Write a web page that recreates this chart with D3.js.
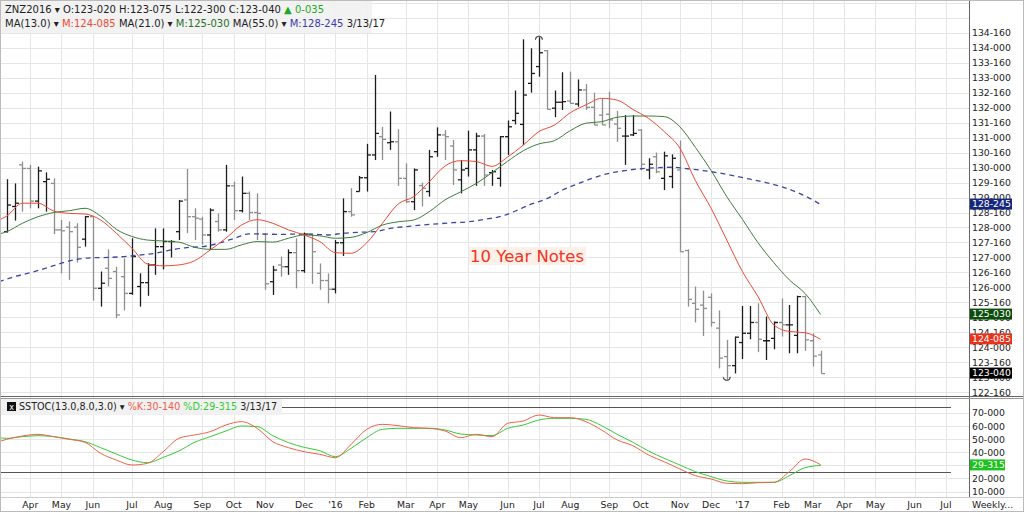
<!DOCTYPE html>
<html>
<head>
<meta charset="utf-8">
<script src="https://cdn.jsdelivr.net/npm/d3@7"></script>
<style>
body { margin: 0; background: #fff; }
svg { display: block; font-family: "DejaVu Sans", Verdana, sans-serif; }
text { white-space: pre; }
</style>
</head>
<body>
<svg id="chart" width="1024" height="512"></svg>
<script>
// weekly ZN bars, first bar is the week of 3/16/15, last one 3/13/17
const firstWeek = new Date(2015, 2, 16)

const opens = [127.86, 128.70, 130.09, 129.97, 128.88, 129.53, 129.47, 127.92, 128.01, 128.01,
  127.61, 128.36, 125.97, 126.64, 126.53, 126.36, 125.80, 126.03, 126.16, 126.75,
  127.36, 127.53, 127.86, 128.92, 128.36, 128.28, 127.75, 128.20, 127.92, 129.39,
  128.56, 129.14, 128.50, 127.78, 126.19, 126.75, 126.69, 127.16, 126.56, 127.78,
  126.47, 126.23, 125.94, 127.49, 128.53, 129.20, 129.66, 130.42, 131.03, 130.83,
  130.86, 129.64, 128.86, 129.40, 129.20, 130.53, 131.09, 130.72, 129.59, 129.97,
  130.59, 131.05, 129.83, 129.64, 131.03, 131.57, 131.44, 132.81, 133.37, 133.90,
  131.98, 132.18, 132.22, 132.12, 132.59, 132.01, 131.75, 131.78, 131.45, 131.05,
  131.09, 131.25, 129.92, 130.36, 129.64, 129.70, 129.92, 127.23, 125.47, 125.41,
  125.67, 124.64, 123.69, 123.39, 124.16, 124.47, 124.83, 124.22, 124.30, 124.83,
  124.75, 124.40, 125.69, 124.22, 123.75]
const highs = [129.61, 129.47, 130.20, 130.09, 130.03, 129.84, 129.64, 128.25, 128.20, 128.14,
  128.38, 128.36, 126.53, 127.27, 126.69, 126.97, 127.64, 126.47, 126.81, 127.97,
  127.97, 127.58, 128.92, 129.95, 128.64, 128.36, 128.64, 128.47, 130.09, 129.53,
  129.70, 129.20, 129.14, 127.81, 126.72, 127.03, 127.27, 127.64, 127.83, 127.78,
  126.80, 126.47, 127.58, 128.97, 129.31, 129.72, 130.79, 133.09, 131.36, 131.87,
  131.28, 130.14, 129.97, 129.50, 130.59, 131.34, 131.25, 130.92, 130.25, 131.23,
  131.16, 131.12, 129.92, 131.05, 131.57, 132.57, 134.28, 133.98, 134.35, 133.92,
  132.57, 133.18, 133.20, 132.94, 132.79, 132.50, 132.31, 132.53, 131.89, 131.75,
  131.75, 131.28, 130.31, 130.50, 130.53, 130.44, 130.90, 127.27, 126.03, 125.89,
  125.80, 125.23, 124.25, 124.36, 125.38, 125.38, 125.47, 125.03, 124.86, 125.63,
  125.41, 125.72, 125.72, 124.47, 123.89]
const lows = [127.83, 128.23, 128.53, 128.64, 128.64, 128.53, 127.78, 126.47, 126.25, 126.83,
  127.36, 125.56, 125.36, 126.03, 124.97, 125.23, 125.75, 125.36, 125.72, 126.42,
  126.60, 127.00, 127.58, 127.81, 127.58, 127.42, 127.25, 127.86, 127.86, 128.25,
  128.50, 128.25, 127.58, 125.92, 125.75, 126.36, 126.42, 125.97, 126.49, 126.12,
  125.92, 125.47, 125.80, 127.05, 128.36, 129.20, 129.20, 130.25, 130.25, 130.59,
  129.39, 128.81, 128.58, 128.70, 129.03, 130.36, 130.25, 129.42, 129.14, 129.70,
  129.39, 129.39, 129.39, 129.36, 130.42, 131.44, 130.75, 132.50, 133.03, 131.94,
  131.68, 131.92, 132.12, 132.03, 131.92, 131.42, 131.42, 131.31, 130.86, 130.09,
  131.05, 129.92, 129.61, 129.81, 129.25, 129.31, 127.19, 125.36, 124.83, 124.38,
  124.69, 123.30, 122.93, 123.13, 123.61, 124.27, 123.84, 123.58, 123.94, 124.36,
  123.80, 123.80, 123.89, 123.36, 123.13]
const closes = [128.75, 128.81, 129.97, 128.88, 129.89, 129.61, 127.92, 127.89, 127.86, 127.34,
  128.36, 125.97, 126.14, 126.30, 125.08, 125.80, 127.03, 126.16, 126.75, 127.36,
  127.53, 127.53, 128.88, 128.36, 128.31, 127.75, 128.58, 127.92, 129.39, 128.56,
  129.14, 128.50, 128.47, 126.12, 126.58, 126.69, 127.16, 126.56, 127.78, 127.19,
  126.23, 125.94, 127.49, 128.53, 128.42, 129.66, 130.42, 131.14, 130.94, 130.86,
  129.64, 128.86, 129.92, 129.31, 130.36, 131.09, 131.03, 129.92, 129.92, 130.59,
  131.05, 129.75, 129.86, 131.03, 131.36, 131.81, 132.42, 133.14, 133.83, 131.94,
  132.18, 132.20, 132.14, 132.59, 132.01, 131.42, 131.42, 131.59, 131.31, 131.05,
  131.14, 130.11, 130.11, 129.86, 130.39, 130.31, 127.19, 125.60, 125.27, 125.30,
  124.83, 123.64, 123.39, 124.34, 124.47, 124.83, 124.27, 124.22, 124.83, 124.75,
  124.75, 125.69, 124.25, 123.71, 123.125]

// moving averages (week index, -1 = week before the first bar)
const maWeeks = [-1, 0, 2, 4, 6, 8, 10, 12, 14, 16, 18, 20, 22, 24, 26, 28, 30, 32, 34, 36,
  38, 40, 42, 44, 46, 48, 50, 52, 54, 56, 58, 60, 62, 64, 66, 68, 70, 72, 74, 76,
  78, 80, 82, 84, 86, 88, 90, 92, 94, 96, 98, 100, 102, 104]
const ma13 = [128.25, 128.38, 128.81, 128.81, 128.55, 128.47, 128.45, 128.25, 127.81, 127.31,
  126.78, 126.72, 126.75, 126.89, 127.25, 127.64, 128.08, 128.26, 128.14, 127.92,
  127.75, 127.53, 127.16, 127.14, 127.49, 128.14, 128.78, 129.03, 129.53, 130.05,
  130.23, 130.20, 130.04, 130.35, 130.75, 131.20, 131.42, 131.83, 132.09, 132.31,
  132.25, 131.94, 131.64, 131.20, 130.65, 129.56, 128.64, 127.58, 126.53, 125.69,
  124.75, 124.53, 124.49, 124.265625]
const ma21 = [127.78, 127.86, 128.14, 128.36, 128.50, 128.56, 128.64, 128.38, 127.94, 127.70,
  127.58, 127.55, 127.51, 127.34, 127.27, 127.27, 127.42, 127.53, 127.51, 127.64,
  127.75, 127.72, 127.64, 127.67, 127.83, 128.08, 128.19, 128.25, 128.53, 128.92,
  129.19, 129.47, 129.83, 130.21, 130.56, 130.79, 130.90, 131.23, 131.48, 131.53,
  131.68, 131.72, 131.72, 131.70, 131.36, 130.67, 129.90, 129.03, 128.27, 127.49,
  126.83, 126.25, 125.80, 125.09375]
const ma55Weeks = [-1, 1, 3, 5, 7, 9, 11, 13, 15, 17, 19, 21, 23, 25, 27, 29, 31, 33, 35, 37,
  39, 41, 43, 45, 47, 49, 51, 53, 55, 57, 59, 61, 63, 65, 67, 69, 71, 73, 75, 77,
  79, 81, 83, 85, 87, 89, 91, 93, 95, 97, 99, 101, 103, 104]
const ma55 = [126.19, 126.36, 126.49, 126.64, 126.81, 126.94, 126.99, 127.00, 127.03, 127.08,
  127.14, 127.25, 127.33, 127.36, 127.47, 127.63, 127.79, 127.78, 127.77, 127.78,
  127.78, 127.75, 127.81, 127.84, 127.86, 127.97, 128.03, 128.08, 128.12, 128.16,
  128.19, 128.27, 128.36, 128.55, 128.78, 128.96, 129.25, 129.46, 129.66, 129.81,
  129.90, 129.96, 129.99, 130.01, 129.96, 129.90, 129.82, 129.72, 129.61, 129.50,
  129.36, 129.17, 128.92, 128.765625]

// slow stochastic (13,8,3)
const stochK = [48.19, 49.98, 52.53, 53.81, 52.02, 49.98, 47.68, 39.25, 34.14, 30.31,
  31.59, 40.53, 50.74, 53.30, 55.85, 60.96, 63.52, 58.41, 48.19, 43.59,
  40.53, 38.48, 35.93, 46.15, 57.64, 61.47, 60.45, 58.92, 58.41, 56.36,
  51.26, 53.81, 52.02, 62.24, 64.03, 68.62, 66.58, 66.58, 63.52, 57.13,
  49.47, 45.12, 37.97, 32.86, 27.25, 22.14, 19.58, 16.26, 16.01, 16.77,
  17.03, 25.20, 34.91, 30.4375]
const stochD = [51.26, 50.74, 52.02, 52.79, 52.02, 50.23, 48.19, 43.59, 38.74, 34.14,
  32.10, 36.18, 41.04, 47.68, 52.02, 56.36, 60.20, 59.68, 52.79, 47.42,
  43.85, 41.29, 36.70, 43.08, 51.26, 57.64, 58.41, 58.41, 58.41, 57.13,
  54.06, 53.30, 52.79, 58.41, 60.96, 64.79, 66.07, 66.07, 65.30, 60.45,
  53.81, 47.68, 41.04, 35.42, 30.31, 25.20, 21.37, 18.05, 17.03, 17.03,
  17.03, 22.14, 28.27, 29.984375]

const priceTicks = d3.range(122.5, 134.51, 0.5)
const stochTicks = [10, 20, 30, 40, 50, 60, 70]
const stochLevels = [25, 75]

const RED = "#ee4a34", DKGREEN = "#3d7d3d", BLUE = "#3a48a2"
const KRED = "#f0604c", DGREEN = "#34cc34"

const svg = d3.select("#chart")
const axisX = 969.5

const weekDate = i => d3.timeMonday.offset(firstWeek, i)
const x = d3.scaleTime().domain([weekDate(0), weekDate(104)]).range([6.7, 820.7])
const y = d3.scaleLinear().domain([122.5, 134.5]).range([392.3, 32.7])
const ys = d3.scaleLinear().domain([10, 70]).range([491.5, 413.2])

// 32nds notation used by the quote board, e.g. 128-245
function fmt32(v) {
    const whole = Math.floor(v)
    const frac = Math.round((v - whole) * 320)
    return whole + "-" + String(frac).padStart(3, "0")
}

const months = d3.timeMonth.range(new Date(2015, 3, 1), new Date(2017, 7, 1))
const monthTicks = months.map(m => ({ date: d3.timeMonday.ceil(m), month: m }))
const monthLabel = m => m.getMonth() === 0 ? "'" + d3.timeFormat("%y")(m) : d3.timeFormat("%b")(m)

const defs = svg.append("defs")
defs.append("clipPath").attr("id", "clipPrice").append("rect")
    .attr("x", 0).attr("y", 0).attr("width", axisX).attr("height", 396)
defs.append("clipPath").attr("id", "clipStoch").append("rect")
    .attr("x", 0).attr("y", 398).attr("width", axisX).attr("height", 99)

// ---- grid
const grid = svg.append("g").attr("stroke", "#e6e6e6").attr("stroke-width", 1)
grid.selectAll(".hp").data(d3.range(121.5, 135.51, 0.5)).enter().append("line")
    .attr("x1", 0).attr("x2", axisX)
    .attr("y1", d => Math.round(y(d)) + 0.5).attr("y2", d => Math.round(y(d)) + 0.5)
    .attr("clip-path", "url(#clipPrice)")
grid.selectAll(".hs").data(stochTicks).enter().append("line")
    .attr("x1", 0).attr("x2", axisX)
    .attr("y1", d => Math.round(ys(d)) + 0.5).attr("y2", d => Math.round(ys(d)) + 0.5)
grid.selectAll(".v").data(monthTicks).enter().append("line")
    .attr("x1", d => Math.round(x(d.date)) + 0.5).attr("x2", d => Math.round(x(d.date)) + 0.5)
    .attr("y1", 0).attr("y2", 497)
    .attr("display", d => x(d.date) < axisX ? null : "none")

// ---- price bars
const bars = svg.append("g").attr("clip-path", "url(#clipPrice)")
opens.forEach((o, i) => {
    const cx = Math.round(x(weekDate(i))) + 0.5
    const col = closes[i] >= o ? "#1c1c1c" : "#8e8e8e"
    const g = bars.append("g").attr("stroke", col).attr("stroke-width", 1.3)
    g.append("line").attr("x1", cx).attr("x2", cx).attr("y1", y(highs[i])).attr("y2", y(lows[i]))
    g.append("line").attr("x1", cx - 3.5).attr("x2", cx).attr("y1", y(o)).attr("y2", y(o))
    g.append("line").attr("x1", cx).attr("x2", cx + 3.5).attr("y1", y(closes[i])).attr("y2", y(closes[i]))
})
// little caps on the highest high and lowest low
const hiIdx = d3.maxIndex(highs), loIdx = d3.minIndex(lows)
bars.append("path")
    .attr("d", d3.arc()({ innerRadius: 3.5, outerRadius: 3.5, startAngle: -Math.PI / 2, endAngle: Math.PI / 2 }))
    .attr("transform", `translate(${x(weekDate(hiIdx))},${y(highs[hiIdx]) + 2.5})`)
    .attr("fill", "none").attr("stroke", "#555").attr("stroke-width", 1)
bars.append("path")
    .attr("d", d3.arc()({ innerRadius: 3.5, outerRadius: 3.5, startAngle: Math.PI / 2, endAngle: Math.PI * 1.5 }))
    .attr("transform", `translate(${x(weekDate(loIdx))},${y(lows[loIdx]) - 2.5})`)
    .attr("fill", "none").attr("stroke", "#555").attr("stroke-width", 1)

// ---- moving averages
const maLine = d3.line().x(d => x(weekDate(d[0]))).y(d => y(d[1])).curve(d3.curveMonotoneX)
const lines = svg.append("g").attr("clip-path", "url(#clipPrice)").attr("fill", "none")
lines.append("path").attr("d", maLine(d3.zip(ma55Weeks, ma55)))
    .attr("stroke", BLUE).attr("stroke-width", 1.3).attr("stroke-dasharray", "5,4")
lines.append("path").attr("d", maLine(d3.zip(maWeeks, ma21)))
    .attr("stroke", DKGREEN).attr("stroke-width", 1)
lines.append("path").attr("d", maLine(d3.zip(maWeeks, ma13)))
    .attr("stroke", RED).attr("stroke-width", 1)

// ---- stochastics
const stLine = d3.line().x(d => x(weekDate(d[0]))).y(d => ys(d[1])).curve(d3.curveMonotoneX)
const st = svg.append("g").attr("clip-path", "url(#clipStoch)").attr("fill", "none")
st.selectAll(".lvl").data(stochLevels).enter().append("line")
    .attr("x1", 0).attr("x2", 951)
    .attr("y1", d => Math.round(ys(d)) + 0.5).attr("y2", d => Math.round(ys(d)) + 0.5)
    .attr("stroke", "#555").attr("stroke-width", 1)
st.append("path").attr("d", stLine(d3.zip(maWeeks, stochD))).attr("stroke", DGREEN).attr("stroke-width", 1)
st.append("path").attr("d", stLine(d3.zip(maWeeks, stochK))).attr("stroke", KRED).attr("stroke-width", 1)

// ---- frame and separators
svg.append("line").attr("x1", axisX).attr("x2", axisX).attr("y1", 0).attr("y2", 497)
    .attr("stroke", "#666").attr("stroke-width", 1)
svg.append("line").attr("x1", 0).attr("x2", 1024).attr("y1", 396.5).attr("y2", 396.5)
    .attr("stroke", "#666").attr("stroke-width", 1)
svg.append("line").attr("x1", 0).attr("x2", 1024).attr("y1", 398.5).attr("y2", 398.5)
    .attr("stroke", "#999").attr("stroke-width", 1)
svg.append("line").attr("x1", 0).attr("x2", 1024).attr("y1", 497.5).attr("y2", 497.5)
    .attr("stroke", "#ccc").attr("stroke-width", 1)
svg.append("rect").attr("x", 0.5).attr("y", 0.5).attr("width", 1023).attr("height", 511)
    .attr("fill", "none").attr("stroke", "#bbb")

// ---- right axes
const axisFont = 9.3
svg.append("g").selectAll("text").data(priceTicks).enter().append("text")
    .attr("x", 972).attr("y", d => y(d)).attr("dy", "0.35em")
    .attr("font-size", axisFont).attr("fill", "#222").text(d => fmt32(d))
svg.append("g").selectAll("text").data(stochTicks).enter().append("text")
    .attr("x", 972).attr("y", d => ys(d)).attr("dy", "0.35em")
    .attr("font-size", axisFont).attr("fill", "#222").text(d => d + "-000")

// ---- time axis
svg.append("g").selectAll("text").data(monthTicks.filter(d => x(d.date) < axisX)).enter().append("text")
    .attr("x", d => x(d.date)).attr("y", 505).attr("dy", "0.35em").attr("text-anchor", "middle")
    .attr("font-size", axisFont).attr("fill", "#222").text(d => monthLabel(d.month))
svg.append("text").attr("x", 972).attr("y", 505).attr("dy", "0.35em")
    .attr("font-size", axisFont).attr("fill", "#222").text("Weekly...")

// ---- last value boxes (they sit on top of the axis labels, like the original)
const lastBoxes = [
    { v: ma55[ma55.length - 1], fill: "#16287e", sc: y },
    { v: ma21[ma21.length - 1], fill: "#0c4d0c", sc: y },
    { v: ma13[ma13.length - 1], fill: "#e8331c", sc: y },
    { v: closes[closes.length - 1], fill: "#000", sc: y },
    { v: stochD[stochD.length - 1], fill: "#1ec21e", sc: ys }
]
const boxes = svg.append("g").selectAll("g").data(lastBoxes).enter().append("g")
    .attr("transform", d => `translate(970,${d.sc(d.v) - 0.5})`)
boxes.append("rect").attr("x", 0).attr("y", -5.5).attr("height", 11)
    .attr("width", d => d.sc === ys ? 35 : 42).attr("fill", d => d.fill)
boxes.append("text").attr("x", 2).attr("dy", "0.35em").attr("font-size", axisFont)
    .attr("fill", "#fff").text(d => fmt32(d.v))

// ---- chart title
svg.append("rect").attr("x", 469).attr("y", 247).attr("width", 117).attr("height", 18)
    .attr("fill", "#fdf0e8")
svg.append("text").attr("x", 470).attr("y", 262).attr("font-size", 16.5)
    .attr("fill", "#f2331e").text("10 Year Notes")

// ---- legends
function legend(g, parts, tx, ty, size) {
    const t = g.append("text").attr("x", tx).attr("y", ty).attr("font-size", size)
    parts.forEach(p => t.append("tspan").attr("fill", p[1]).text(p[0]))
    return t
}
const hdr = svg.append("g")
hdr.append("rect").attr("x", 1).attr("y", 1).attr("width", 371).attr("height", 32)
    .attr("fill", "#f1f1f1").attr("opacity", 0.92)
legend(hdr, [["ZNZ2016 ▾ O:123-020 H:123-075 L:122-300 C:123-040 ", "#222"], ["▲ 0-035", "#1faa1f"]], 5, 13, 10)
legend(hdr, [
    ["MA(13.0) ▾ ", "#222"], ["M:" + fmt32(ma13[ma13.length - 1]), RED],
    [" MA(21.0) ▾ ", "#222"], ["M:" + fmt32(ma21[ma21.length - 1]), "#2a6e2a"],
    [" MA(55.0) ▾ ", "#222"], ["M:" + fmt32(ma55[ma55.length - 1]), "#3a3aa8"],
    [" 3/13/17", "#222"]], 5, 27, 10)

const sh = svg.append("g")
sh.append("rect").attr("x", 1).attr("y", 399).attr("width", 281).attr("height", 16)
    .attr("fill", "#f1f1f1")
sh.append("rect").attr("x", 7).attr("y", 402).attr("width", 9).attr("height", 9).attr("fill", "#111")
sh.append("text").attr("x", 11.5).attr("y", 409.5).attr("text-anchor", "middle")
    .attr("font-size", 8).attr("fill", "#fff").text("x")
legend(sh, [["SSTOC(13.0,8.0,3.0) ▾ ", "#222"], ["%K:" + fmt32(stochK[stochK.length - 1]), KRED],
    [" ", "#222"], ["%D:" + fmt32(stochD[stochD.length - 1]), DGREEN], [" 3/13/17", "#222"]], 19, 410, 9.6)
</script>
</body>
</html>
